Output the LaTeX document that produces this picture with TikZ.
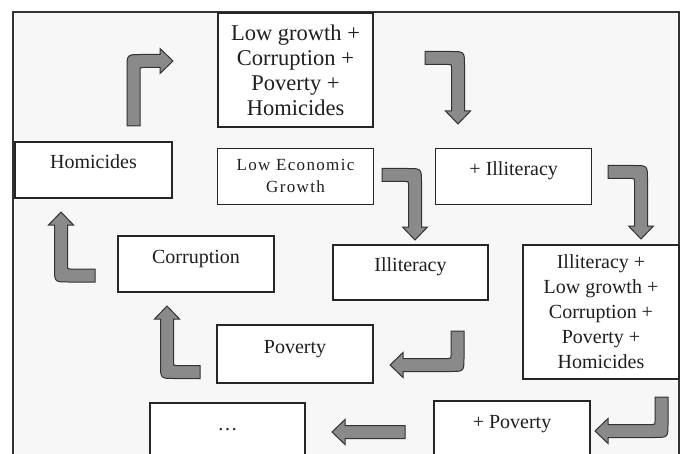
\documentclass[tikz,border=0pt]{standalone}
\usepackage{fontspec}
\setmainfont{Liberation Serif}
\newfontfamily\spacedserif[LetterSpace=8]{Liberation Serif}
\usetikzlibrary{positioning}
\definecolor{framegray}{gray}{0.97}
\definecolor{arrowgray}{gray}{0.54}
\definecolor{textgray}{gray}{0.12}

\tikzstyle{box} = [rectangle, draw=black!85, line width=1.2pt, fill=white,
    text=textgray, align=center, minimum width=156pt, minimum height=56pt,
    inner sep=0pt, font=\fontsize{20}{25}\selectfont]
\tikzstyle{oneline} = [box, text height=14pt, text depth=16pt]
\tikzstyle{flow} = [draw=black!80, line width=1pt, fill=arrowgray]

\tikzset{
  pics/bent/.style 2 args={code={
    \path[flow] (-6.5,0) -- (-6.5,{-#1+7.5})
      .. controls (-6.5,{-#1-6.5}) .. (7.5,{-#1-6.5})
      -- ({#2-13},{-#1-6.5}) -- ({#2-13},{-#1-12.5}) -- (#2,-#1)
      -- ({#2-13},{-#1+12.5}) -- ({#2-13},{-#1+6.5}) -- (9.5,{-#1+6.5})
      .. controls (6.5,{-#1+6.5}) .. (6.5,{-#1+9.5}) -- (6.5,0) -- cycle;
  }},
  pics/straight/.style={code={
    \path[flow] (0,-6.5) -- ({#1-13},-6.5) -- ({#1-13},-12.5) -- (#1,0)
      -- ({#1-13},12.5) -- ({#1-13},6.5) -- (0,6.5) -- cycle;
  }},
}

\begin{document}
\begin{tikzpicture}[x=1pt, y=1pt, yscale=-1]
  \useasboundingbox (0,0) rectangle (684,454);
  \clip (0,0) rectangle (684,454);
  \fill[white] (0,0) rectangle (684,454);
  \draw[fill=framegray, draw=black!80, line width=1.3pt] (13,12) rectangle (679,480);

  \node[box, minimum width=155pt, minimum height=114pt,
        font=\fontsize{22.5}{25}\selectfont] (lowgrowth) at (295.5,70)
        {Low growth +\\Corruption +\\Poverty +\\Homicides};
  \node[box, font=\spacedserif\fontsize{17}{22}\selectfont]
        (loweco) [below=20pt of lowgrowth] {Low Economic\\Growth};
  \node[oneline] (plusillit) [right=61pt of loweco] {+ Illiteracy};
  \node[oneline, minimum width=157pt] (homicides) at (93.5,170) {Homicides};
  \node[oneline] (corruption) at (196,264) {Corruption};
  \node[oneline, minimum width=155pt, minimum height=55pt] (illit) at (410.5,272.5) {Illiteracy};
  \node[box, minimum height=134pt] (allfive) at (601,312)
        {Illiteracy +\\Low growth +\\Corruption +\\Poverty +\\Homicides};
  \node[oneline, minimum height=58pt] (poverty) at (295,354) {Poverty};
  \node[oneline, minimum width=155pt] (dots) at (227.5,431) {\dots};
  \node[oneline] (pluspov) at (512,429) {+ Poverty};

  % flow of the cycle
  \pic[transform shape] at (133.5,126) {bent={65}{39.5}};
  \pic[transform shape, rotate=90] at (425,58) {bent={33}{66}};
  \pic[transform shape, rotate=90] at (382,175) {bent={33}{65}};
  \pic[transform shape, rotate=90] at (608,172) {bent={33}{67}};
  \pic[transform shape, rotate=-90] at (95,275.5) {bent={34}{63.5}};
  \pic[transform shape, rotate=-90] at (200,372) {bent={33}{66}};
  \pic[transform shape, rotate=180] at (457.5,331) {bent={34}{67.5}};
  \pic[transform shape, rotate=180] at (661.5,397) {bent={34}{66.5}};
  \pic[transform shape, rotate=180] at (405,432) {straight=73};
\end{tikzpicture}
\end{document}
